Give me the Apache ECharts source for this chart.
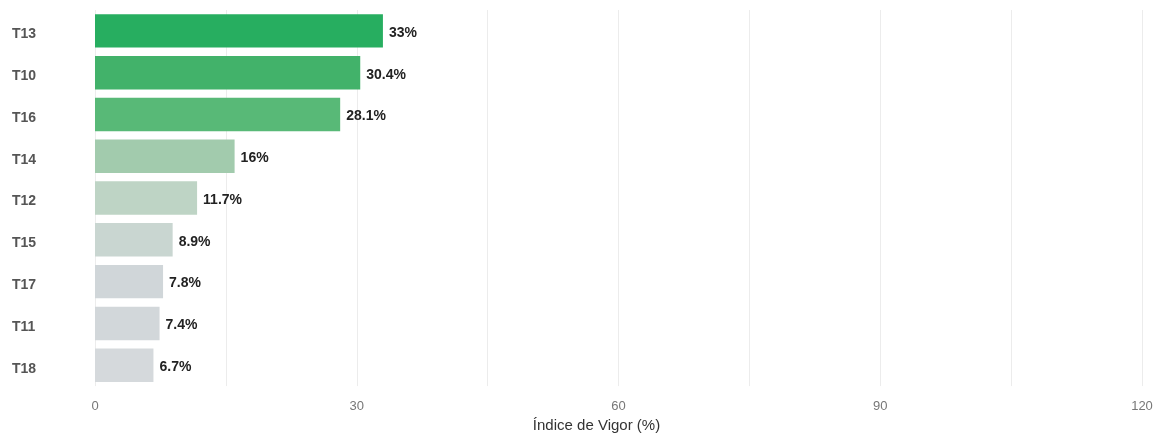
<!DOCTYPE html>
<html>
<head>
<meta charset="utf-8">
<script src="https://cdn.jsdelivr.net/npm/echarts@6/dist/echarts.min.js"></script>
<style>
html,body{margin:0;padding:0;background:#fff;}
#chart{width:1158px;height:438px;}
</style>
</head>
<body>
<div id="chart"></div>
<script>
//数据
var categories=['T13','T10','T16','T14','T12','T15','T17','T11','T18'];
var values=[33,30.4,28.1,16,11.7,8.9,7.8,7.4,6.7];
var barColors=['#27ae60','#42b26a','#58b977','#a2cbad','#bed4c5','#c9d6d1','#d0d6d9','#d2d7da','#d5d9dc'];
var tickValues=[0,30,60,90,120];

var myChart=echarts.init(document.getElementById('chart'));

//条形数据
var barData=[];
for(var i=0;i<values.length;i++){
    barData.push({value:values[i],itemStyle:{color:barColors[i]}});
}

var option={
    backgroundColor:'#fff',
    animation:false,
    grid:{left:95,right:16,top:10,bottom:49},
    xAxis:{
        type:'value',
        min:0,
        max:120,
        interval:15,
        name:'Índice de Vigor (%)',
        nameLocation:'middle',
        nameGap:31,
        nameTextStyle:{color:'#333',fontSize:15,fontFamily:'Liberation Sans Narrow, Liberation Sans, Arial',padding:[0,44,0,0]},
        axisLine:{show:false},
        axisTick:{show:false},
        axisLabel:{
            color:'#777',
            fontSize:13,
            margin:14,
            fontFamily:'Liberation Sans Narrow, Liberation Sans, Arial',
            formatter:function(v){ return tickValues.indexOf(v)>=0 ? String(v) : ''; }
        },
        splitLine:{show:true,lineStyle:{color:'#ececec',width:1}}
    },
    yAxis:{
        type:'category',
        data:categories,
        inverse:true,
        axisLine:{show:false},
        axisTick:{show:false},
        axisLabel:{
            align:'left',
            margin:83,
            formatter:function(v){ return '{c|'+v+'}'; },
            rich:{
                c:{
                    color:'#555',
                    fontSize:14,
                    fontWeight:'bold',
                    fontFamily:'Liberation Sans, Arial',
                    padding:[7,0,0,0]
                }
            }
        }
    },
    series:[{
        type:'bar',
        data:barData,
        barCategoryGap:'20%',
        label:{
            show:true,
            position:'right',
            distance:6,
            offset:[0,2],
            color:'#222',
            fontSize:14,
            fontWeight:'bold',
            fontFamily:'Liberation Sans, Arial',
            formatter:function(p){ return p.value+'%'; }
        }
    }]
};
myChart.setOption(option);
</script>
</body>
</html>
